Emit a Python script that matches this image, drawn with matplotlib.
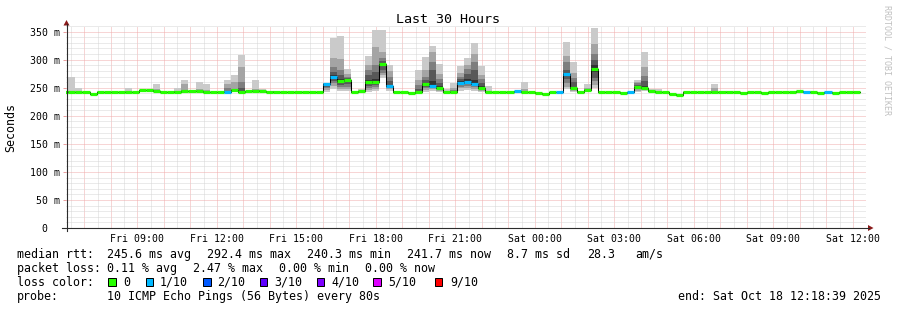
import matplotlib
matplotlib.use('Agg')
import matplotlib.pyplot as plt
import numpy as np
from matplotlib.patches import Rectangle, Polygon
from matplotlib.lines import Line2D

# ---------------- data ----------------
# time axis: hours since Fri 00:00; graph spans 30 h ending Sat 12:18:39
view_end = 36 + 18 / 60 + 39 / 3600
view_start = view_end - 30
bin_start = 6 + 8 / 60          # first 16-min bin starts Fri 06:08
bin_hours = 16 / 60

median_ms = [
    243, 243, 241.5, 241.5, 239.5, 241.5, 242.5, 242.5, 242.5, 242.5,
    242.5, 245.5, 246.6, 243.5, 242.5, 242, 243, 243.5, 243.5, 243.5,
    242.5, 242, 242, 243, 245.5, 243, 244, 244.5, 245, 242.5,
    243, 242, 242, 242, 242, 242, 242, 257, 269.5, 261.5,
    263.5, 241.5, 243.5, 260.5, 260.5, 291.5, 252.5, 241.5, 241.5, 240.5,
    242, 256, 252.5, 250, 241.5, 243, 258.5, 260.5, 256, 250,
    241.5, 241.5, 242, 242, 244, 242, 242, 240.5, 238.5, 242,
    242, 275, 249.5, 241.5, 245.5, 283.5, 241.5, 242, 242, 241,
    241.5, 250.5, 250, 243.5, 243, 241.5, 239.5, 237.5, 241.5, 242,
    242, 242, 242, 242, 242, 242, 241, 242, 242, 241,
    242, 242, 242, 242, 243.5, 242.5, 242, 241, 242, 241,
    242, 242, 242,
]

loss_tenths = [
    0, 0, 0, 0, 0, 0, 0, 0, 0, 0,
    0, 0, 0, 0, 0, 0, 0, 0, 0, 0,
    0, 0, 0, 1, 0, 0, 0, 0, 0, 0,
    0, 0, 0, 0, 0, 0, 0, 1, 1, 0,
    0, 0, 0, 0, 0, 0, 1, 0, 0, 0,
    0, 0, 1, 0, 0, 0, 1, 1, 1, 0,
    0, 0, 0, 0, 1, 0, 0, 0, 0, 0,
    1, 1, 0, 0, 0, 0, 0, 0, 0, 0,
    1, 0, 0, 0, 0, 0, 0, 0, 0, 0,
    0, 0, 0, 0, 0, 0, 0, 0, 0, 0,
    0, 0, 0, 0, 0, 1, 0, 0, 1, 0,
    0, 0, 0,
]

# bins with visible smoke and their 10 sorted ping times (ms)
smoke_bins = [1, 2, 5, 9, 13, 16, 17, 19, 20, 23, 24, 25, 27, 28, 30,
              37, 38, 39, 40, 42, 43, 44, 45, 46, 47, 50, 51, 52, 53, 54,
              55, 56, 57, 58, 59, 60, 65, 71, 72, 74, 75, 81, 82, 83, 84,
              88, 92, 94, 105, 106, 112]
smoke_pings = [
    [241, 242, 242.5, 243, 243, 243, 243.5, 244, 245, 269],
    [240, 241, 241.5, 241.5, 241.5, 241.5, 242, 242.5, 243, 249],
    [240, 241, 241, 241.5, 241.5, 241.5, 242, 242, 242.5, 245],
    [241, 242, 242, 242.5, 242.5, 242.5, 243, 243, 244, 249],
    [242, 243, 243, 243.5, 243.5, 243.5, 244, 245, 247, 256],
    [241, 242, 242.5, 243, 243, 243, 243.5, 244, 245, 249],
    [242, 243, 243, 243.5, 243.5, 243.5, 244, 246, 256, 263],
    [242, 243, 243, 243.5, 243.5, 243.5, 244, 245, 248, 261],
    [241, 242, 242, 242.5, 242.5, 242.5, 243, 244, 246, 256],
    [241, 242, 242.5, 243, 243, 243, 245, 250, 256, 263],
    [243, 244, 245, 245.5, 245.5, 245.5, 246, 248, 260, 272],
    [241, 242, 242.5, 243, 243, 244, 250, 261, 286.5, 308.5],
    [242, 243, 244, 244.5, 244.5, 244.5, 245, 246, 248, 263],
    [243, 244, 244.5, 245, 245, 245, 245.5, 246, 246.5, 247],
    [241.5, 242, 242.5, 243, 243, 243, 243.5, 244, 244.5, 245],
    [243, 246, 249, 252, 256, 257, 257.5, 258, 258.5, 259],
    [247, 253, 258, 262, 266, 272, 277.7, 286.6, 302.5, 339],
    [244, 247, 251, 255, 259, 266, 272, 281, 301, 342],
    [244, 248, 252, 257, 261, 266, 268, 270, 275, 282.5],
    [242, 242.5, 243, 243.5, 243.5, 243.5, 244, 244.5, 245, 247],
    [243, 246, 249, 253, 258, 264, 272, 281, 290, 306],
    [244, 248, 252, 255, 258, 265, 278, 290, 322, 353.5],
    [268, 272, 276, 282, 289, 293, 298, 303, 313, 353.5],
    [245, 248, 250, 251.5, 252.5, 255, 262, 270, 280, 291],
    [240.5, 241, 241.5, 241.5, 241.5, 241.5, 242, 242.5, 243, 244],
    [241, 241.5, 242, 242, 242, 243, 248, 255, 264, 280.7],
    [243, 246, 249, 252, 255, 258, 264, 270, 281, 304.5],
    [244, 247, 250, 252, 253, 262, 281, 295.5, 313, 324],
    [243, 245, 247, 249, 250, 253, 258, 266, 275, 292.5],
    [240.5, 241, 241.5, 241.5, 241.5, 241.5, 242, 243, 244, 248],
    [242, 242.5, 243, 243, 243, 243, 244, 246, 250, 258],
    [245, 249, 252, 255, 258, 262, 266, 270, 277, 289.6],
    [246, 250, 253, 257, 260, 266, 275, 283, 290, 302.5],
    [244, 248, 251, 254, 256, 264, 281, 295.5, 310, 330],
    [243, 245, 247, 249, 250, 253, 259, 265, 272, 288],
    [240.5, 241, 241.5, 241.5, 241.5, 241.5, 242, 243, 245, 252.8],
    [241, 241.5, 242, 242, 242, 242, 243, 244, 247, 259.4],
    [248, 252, 258, 265, 272, 277, 281, 295.5, 307, 332],
    [243, 245, 247, 248, 249, 252, 260, 268, 277, 295.5],
    [244, 244.5, 245, 245.5, 245.5, 245.5, 246, 247, 249, 257],
    [249, 255, 262, 268, 278, 290, 300, 310, 328, 356],
    [243, 245, 247, 249, 250, 252, 255, 258, 260, 263],
    [244, 246, 248, 249, 250, 253, 262, 270, 287, 313],
    [242, 242.5, 243, 243.5, 243.5, 243.5, 244, 244.5, 245, 247],
    [241.5, 242, 242.5, 243, 243, 243, 243.5, 244, 245, 247],
    [240.5, 241, 241, 241.5, 241.5, 241.5, 242, 242.5, 243, 244],
    [241, 241.5, 242, 242, 242, 242, 243, 244, 250, 255.8],
    [241, 241.5, 242, 242, 242, 242, 242.5, 243, 243.5, 245],
    [241.5, 242, 242.5, 242.5, 242.5, 242.5, 243, 243.5, 244, 245],
    [241, 241.5, 242, 242, 242, 242, 242.5, 243, 243.5, 245],
    [241, 241.5, 242, 242, 242, 242, 242.5, 243, 243.5, 245],
]

loss_levels = [0, 1, 2, 3, 4, 5, 9]
loss_labels = ['0', '1/10', '2/10', '3/10', '4/10', '5/10', '9/10']
loss_colors = ['#26ff00', '#00b8ff', '#0059ff', '#5e00ff', '#7e00ff', '#dd00ff', '#ff0000']

hour_ticks = [9, 12, 15, 18, 21, 24, 27, 30, 33, 36]
hour_labels = ['Fri 09:00', 'Fri 12:00', 'Fri 15:00', 'Fri 18:00', 'Fri 21:00',
               'Sat 00:00', 'Sat 03:00', 'Sat 06:00', 'Sat 09:00', 'Sat 12:00']
y_ticks = [0, 50, 100, 150, 200, 250, 300, 350]
y_labels = ['0  ', '50 m', '100 m', '150 m', '200 m', '250 m', '300 m', '350 m']

# ---------------- figure ----------------
W, H = 897, 310
fig = plt.figure(figsize=(W / 100, H / 100), dpi=100)
fig.patch.set_facecolor('white')
MONO = 'DejaVu Sans Mono'


def fx(x):
    return x / W


def fy(y):
    return 1 - y / H


ax_l, ax_r, ax_b, ax_t = 66, 866, 228, 26
ax = fig.add_axes([fx(ax_l), fy(ax_b), (ax_r - ax_l) / W, (ax_b - ax_t) / H])
ax.set_facecolor('white')
ax.set_xlim(view_start, view_end)
ax.set_ylim(0, 360)
for s in ax.spines.values():
    s.set_visible(False)

# grid
ax.set_xticks(np.arange(7, 37, 1))
ax.set_xticks(np.arange(6.5, 36.6, 1), minor=True)
ax.set_yticks(y_ticks)
ax.set_yticks(np.arange(10, 361, 10), minor=True)
dash = (0, (1, 1))
ax.grid(which='minor', color='#d6d6d6', linestyle=dash, linewidth=0.72, zorder=0)
ax.grid(which='major', color='#f0acac', linestyle=dash, linewidth=0.72, zorder=0)
ax.set_axisbelow(True)

# x tick labels: only every 3 hours
xlabels = []
for h in np.arange(7, 37, 1):
    if h in hour_ticks:
        xlabels.append(hour_labels[hour_ticks.index(h)])
    else:
        xlabels.append('')
ax.set_xticklabels(xlabels, fontfamily=MONO, fontsize=7.1)
ax.set_yticklabels(y_labels, fontfamily=MONO, fontsize=7.1)
ax.tick_params(axis='x', which='both', length=0, pad=4.5)
ax.tick_params(axis='y', which='major', length=2.2, width=0.72, color='#eba0a0', pad=2.2)
ax.tick_params(axis='y', which='minor', length=0)

# smoke
grays = ['#cacaca', '#a4a4a4', '#7e7e7e', '#585858', '#323232']
smoke_left = [bin_start + k * bin_hours for k in smoke_bins]
for i in range(5):
    lo = np.array([p[i] for p in smoke_pings])
    hi = np.array([p[9 - i] for p in smoke_pings])
    ax.bar(smoke_left, hi - lo, bottom=lo, width=bin_hours, align='edge',
           color=grays[i], linewidth=0, antialiased=False, zorder=2)

# median: thin dark step line + thick loss-coloured segments
n = len(median_ms)
edges = [bin_start + k * bin_hours for k in range(n + 1)]
ax.step(edges, list(median_ms) + [median_ms[-1]], where='post',
        color='#000000', linewidth=0.75, zorder=3)
seg_colors = [loss_colors[loss_levels.index(l)] for l in loss_tenths]
ax.hlines(median_ms, edges[:-1], edges[1:], colors=seg_colors,
          linewidth=2.3, zorder=4, capstyle='butt')

# axis lines and arrows
axis_col = '#2c2c2c'
arrow_col = '#8b1a1a'
fig.add_artist(Line2D([fx(66.5), fx(66.5)], [fy(231), fy(24)], color=axis_col, lw=0.8))
fig.add_artist(Line2D([fx(62), fx(869)], [fy(228), fy(228)], color=axis_col, lw=0.8))
fig.add_artist(Polygon([[fx(63.5), fy(25.5)], [fx(69.5), fy(25.5)], [fx(66.5), fy(20)]],
                       closed=True, color=arrow_col, lw=0))
fig.add_artist(Polygon([[fx(868), fy(225)], [fx(868), fy(231)], [fx(873.5), fy(228)]],
                       closed=True, color=arrow_col, lw=0))

# title and axis label
fig.text(fx(448), fy(23), 'Last 30 Hours', ha='center', va='baseline',
         fontfamily=MONO, fontsize=9.6)
fig.text(fx(11), fy(127), 'Seconds', ha='center', va='center', rotation=90,
         fontfamily=MONO, fontsize=8.4)
fig.text(fx(887), fy(60), 'RRDTOOL / TOBI OETIKER', ha='center', va='center',
         rotation=270, fontfamily=MONO, fontsize=6, color='#c0c0c0')

# legend rows
FS = 8.4
rows = [
    (257.7, [(16.7, 'median rtt:'), (107.3, '245.6 ms avg'), (207.3, '292.4 ms max'),
             (307.3, '240.3 ms min'), (407.3, '241.7 ms now'), (506.7, '8.7 ms sd'),
             (586.7, '28.3'), (635.7, 'am/s')]),
    (271.7, [(16.7, 'packet loss:'), (107.3, '0.11 % avg'), (193.3, '2.47 % max'),
             (279.3, '0.00 % min'), (365.3, '0.00 % now')]),
    (285.7, [(16.7, 'loss color:')]),
    (299.7, [(16.7, 'probe:'), (107.3, '10 ICMP Echo Pings (56 Bytes) every 80s'),
             (678.3, 'end: Sat Oct 18 12:18:39 2025')]),
]
for yb, items in rows:
    for x, s in items:
        fig.text(fx(x), fy(yb), s, ha='left', va='baseline', fontfamily=MONO, fontsize=FS)

box_x = [108.3, 146.0, 203.3, 260.0, 316.7, 373.3, 435.0]
lab_x = [123.3, 160.0, 217.3, 274.3, 331.0, 388.0, 450.0]
for bx, lx, c, lab in zip(box_x, lab_x, loss_colors, loss_labels):
    fig.add_artist(Rectangle((fx(bx), fy(285.7)), 7.3 / W, 7.3 / H, facecolor=c,
                             edgecolor='#000000', lw=0.72))
    fig.text(fx(lx), fy(285.7), lab, ha='left', va='baseline', fontfamily=MONO, fontsize=FS)

fig.savefig('out.png', dpi=100, facecolor='white')
